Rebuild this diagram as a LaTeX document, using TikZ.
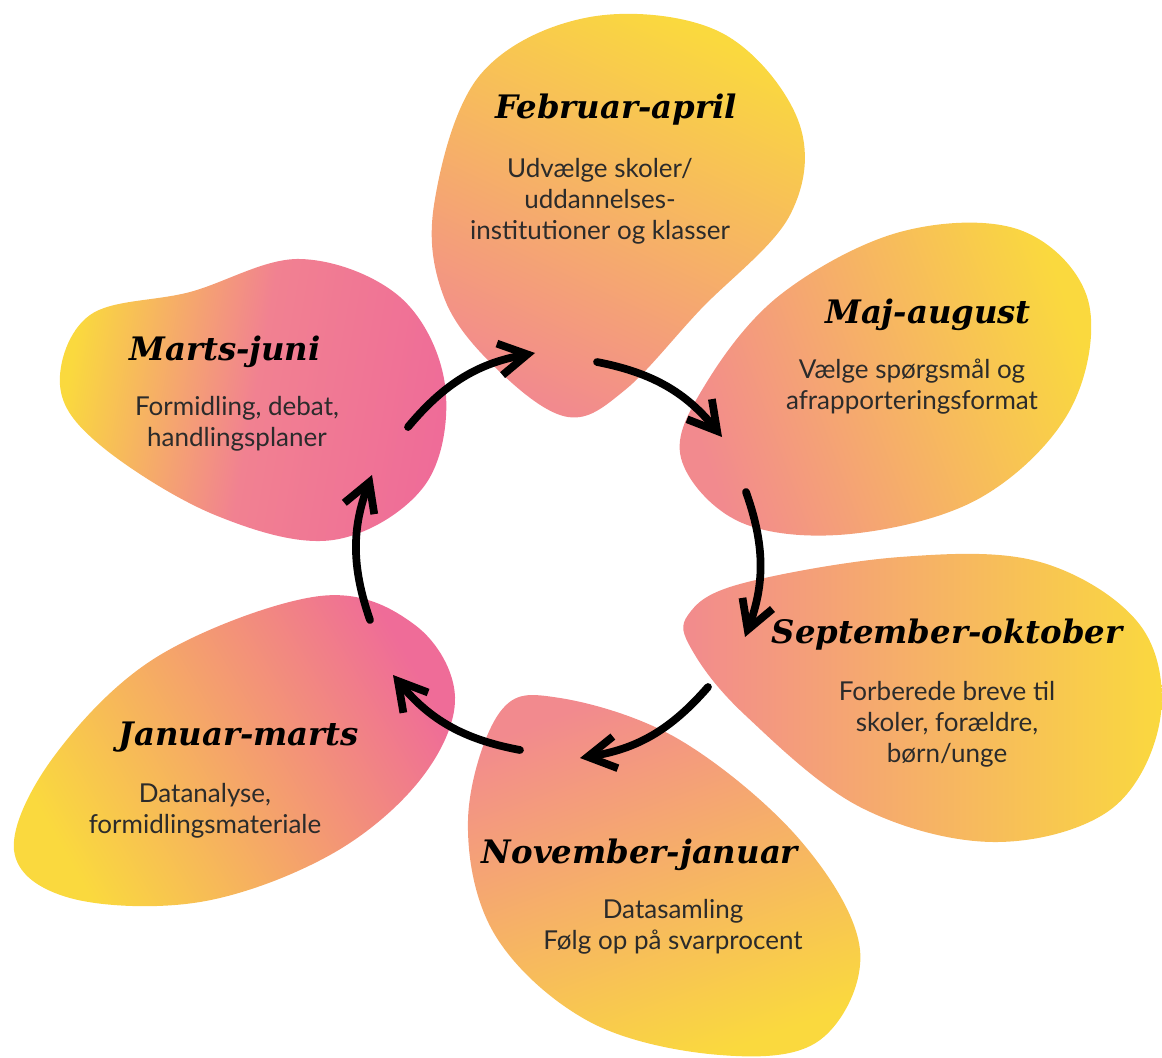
\documentclass[tikz,border=0pt]{standalone}
\usepackage{fontspec}
\setmainfont{Lato}
\newfontfamily\titlefont{DejaVu Serif}
\usepackage{tikz}
\usetikzlibrary{arrows.meta}
\definecolor{petalyellow}{HTML}{FAD93E}
\definecolor{petalpink}{HTML}{EF6C98}
\definecolor{petalsalmon}{HTML}{F28A8E}
\definecolor{bodytext}{HTML}{2B2B2B}
\tikzset{
  petal/.style={top color=petalyellow, bottom color=#1, draw=none},
  ttl/.style={font=\titlefont\bfseries\itshape\fontsize{23}{27}\selectfont, text=black},
  body/.style={font=\fontsize{18.5}{22}\selectfont, text=bodytext, align=center},
  flow/.style={draw=black, line width=5.5pt, line cap=round, -{Straight Barb[length=7mm,width=8mm]}}
}

\begin{document}
\begin{tikzpicture}[x=0.025cm, y=-0.025cm]
  \useasboundingbox (0,0) rectangle (1162,1057);

  % petals
  \shade[petal=petalsalmon, shading angle=-25] plot[smooth cycle, tension=0.6] coordinates {
    (434,205) (480,75) (590,17) (720,32) (798,120) (790,215) (700,310)
    (625,390) (568,417) (500,372) (445,300)};
  \shade[petal=petalsalmon, shading angle=-70] plot[smooth cycle, tension=0.6] coordinates {
    (681,458) (740,522) (850,534) (980,498) (1070,410) (1088,300) (1020,230)
    (900,232) (780,295) (705,385)};
  \shade[petal=petalsalmon, shading angle=-90] plot[smooth cycle, tension=0.6] coordinates {
    (688,615) (740,584) (900,557) (1040,562) (1140,625) (1160,720) (1110,810)
    (993,842) (860,807) (745,715) (692,650)};
  \shade[petal=petalsalmon, shading angle=-160] plot[smooth cycle, tension=0.6] coordinates {
    (500,712) (560,698) (680,740) (800,840) (860,950) (820,1040) (720,1055)
    (590,1022) (495,935) (468,820)};
  \shade[petal=petalpink, shading angle=120] plot[smooth cycle, tension=0.6] coordinates {
    (320,596) (415,625) (455,697) (420,780) (330,855) (200,902) (70,898)
    (14,850) (55,755) (160,655)};
  \shade[petal=petalpink, middle color=petalsalmon!70!petalpink, shading angle=80] plot[smooth cycle, tension=0.6] coordinates {
    (60,385) (90,315) (190,292) (300,259) (400,297) (445,385) (425,485)
    (333,540) (215,515) (100,445)};

  % texts
  \node[ttl] (feb) at (616,110) {Februar-april};
  \node[body] (febtxt) at (600,201) {Udvælge skoler/\\uddannelses-\\institutioner og klasser};
  \node[ttl] (maj) at (928,315) {Maj-august};
  \node[body] (majtxt) at (912,387) {Vælge spørgsmål og\\afrapporteringsformat};
  \node[ttl] (sep) at (947,635) {September-oktober};
  \node[body] (septxt) at (947,724) {Forberede breve til\\skoler, forældre,\\børn/unge};
  \node[ttl] (nov) at (640,855) {November-januar};
  \node[body] (novtxt) at (673,927) {Datasamling\\Følg op på svarprocent};
  \node[ttl] (jan) at (239,737) {Januar-marts};
  \node[body] (jantxt) at (205,811) {Datanalyse,\\formidlingsmateriale};
  \node[ttl] (mar) at (225,352) {Marts-juni};
  \node[body] (martxt) at (237,424) {Formidling, debat,\\handlingsplaner};

  % arrow ends
  \coordinate (mar-out) at (408,427);
  \coordinate (feb-in) at (535,353);
  \coordinate (feb-out) at (597,362);
  \coordinate (maj-in) at (722,437);
  \coordinate (maj-out) at (746,492);
  \coordinate (sep-in) at (745,637);
  \coordinate (sep-out) at (708,687);
  \coordinate (nov-in) at (580,758);
  \coordinate (nov-out) at (520,750);
  \coordinate (jan-in) at (393,675);
  \coordinate (jan-out) at (370,620);
  \coordinate (mar-in) at (372,475);

  \draw[flow] (mar-out) to[bend left=20] (feb-in);
  \draw[flow] (feb-out) to[bend left=20] (maj-in);
  \draw[flow] (maj-out) to[bend left=20] (sep-in);
  \draw[flow] (sep-out) to[bend left=20] (nov-in);
  \draw[flow] (nov-out) to[bend left=20] (jan-in);
  \draw[flow] (jan-out) to[bend left=20] (mar-in);
\end{tikzpicture}
\end{document}
